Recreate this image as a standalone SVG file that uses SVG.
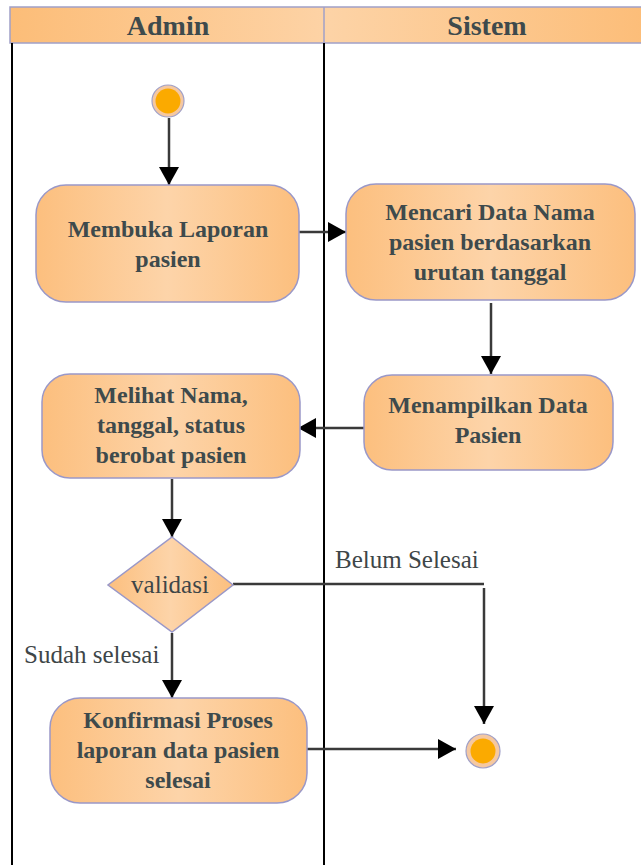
<svg xmlns="http://www.w3.org/2000/svg" width="641" height="865" viewBox="0 0 641 865">
<defs>
<linearGradient id="gHead" x1="0" y1="0" x2="1" y2="0">
<stop offset="0" stop-color="#fcbd78"/><stop offset="0.5" stop-color="#fdd3a6"/><stop offset="1" stop-color="#fcbd78"/>
</linearGradient>
<linearGradient id="gBox" x1="0" y1="0" x2="1" y2="0">
<stop offset="0" stop-color="#fcbf7e"/><stop offset="0.5" stop-color="#fdd4a9"/><stop offset="1" stop-color="#fcbf7e"/>
</linearGradient>
<marker id="arr" markerUnits="userSpaceOnUse" markerWidth="22" markerHeight="22" viewBox="0 0 22 22" refX="20" refY="11" orient="auto">
<path d="M2,1 L20,11 L2,21 Z" fill="#000"/>
</marker>
</defs>
<style>
.lane{stroke:#000;stroke-width:2;fill:none}
.head{fill:url(#gHead);stroke:#a0a0c8;stroke-width:1.5}
.box{fill:url(#gBox);stroke:#9a98c8;stroke-width:1.5}
.t{font-family:"Liberation Serif",serif;font-weight:bold;font-size:24px;fill:#3e4a4c;text-anchor:middle}
.h{font-family:"Liberation Serif",serif;font-weight:bold;font-size:28px;fill:#3e4a4c;text-anchor:middle}
.lbl{font-family:"Liberation Serif",serif;font-size:25px;fill:#3e4648}
.c{stroke:#3a3a3a;stroke-width:2.5;fill:none}
.ring{fill:#f5c8a0;stroke:#a0a0c8;stroke-width:1.2}
.dot{fill:#fbaa00}
</style>
<rect width="641" height="865" fill="#fff"/>
<g id="lanes">
<rect class="head" x="10" y="7" width="640" height="36"/>
<line x1="324" y1="7" x2="324" y2="43" stroke="#a0a0c8" stroke-width="1.5"/>
<text class="h" x="168" y="35">Admin</text>
<text class="h" x="487" y="35">Sistem</text>
<line class="lane" x1="12" y1="43" x2="12" y2="865"/>
<line class="lane" x1="324" y1="43" x2="324" y2="865"/>
</g>
<g id="connectors">
<line class="c" x1="169" y1="118" x2="169" y2="185" marker-end="url(#arr)"/>
<line class="c" x1="299" y1="232" x2="346" y2="232" marker-end="url(#arr)"/>
<line class="c" x1="491" y1="303" x2="491" y2="374" marker-end="url(#arr)"/>
<line class="c" x1="364" y1="428" x2="298" y2="428" marker-end="url(#arr)"/>
<line class="c" x1="172" y1="479" x2="172" y2="537" marker-end="url(#arr)"/>
<polyline class="c" points="233,584 484,584" />
<line class="c" x1="484" y1="588" x2="484" y2="724" marker-end="url(#arr)"/>
<line class="c" x1="172" y1="633" x2="172" y2="698" marker-end="url(#arr)"/>
<line class="c" x1="307" y1="749" x2="456" y2="749" marker-end="url(#arr)"/>
<text class="lbl" x="335" y="568">Belum Selesai</text>
<text class="lbl" x="24" y="663">Sudah selesai</text>
</g>
<g id="start">
<circle class="ring" cx="168" cy="101" r="16"/>
<circle class="dot" cx="168" cy="101" r="12.5"/>
</g>
<g id="n1">
<rect class="box" x="36" y="185" width="263" height="117" rx="30"/>
<text class="t" x="168" y="237">Membuka Laporan</text>
<text class="t" x="168" y="267">pasien</text>
</g>
<g id="n2">
<rect class="box" x="346" y="184" width="289" height="116" rx="30"/>
<text class="t" x="490" y="220">Mencari Data Nama</text>
<text class="t" x="490" y="250">pasien berdasarkan</text>
<text class="t" x="490" y="280">urutan tanggal</text>
</g>
<g id="n3">
<rect class="box" x="364" y="375" width="249" height="95" rx="28"/>
<text class="t" x="488" y="413">Menampilkan Data</text>
<text class="t" x="488" y="443">Pasien</text>
</g>
<g id="n4">
<rect class="box" x="42" y="374" width="258" height="104" rx="28"/>
<text class="t" x="171" y="403">Melihat Nama,</text>
<text class="t" x="171" y="433">tanggal, status</text>
<text class="t" x="171" y="463">berobat pasien</text>
</g>
<g id="decision">
<polygon class="box" points="172,537 233,585 172,632 108,585"/>
<text class="lbl" x="170" y="593" text-anchor="middle">validasi</text>
</g>
<g id="n5">
<rect class="box" x="50" y="698" width="257" height="105" rx="30"/>
<text class="t" x="178" y="728">Konfirmasi Proses</text>
<text class="t" x="178" y="758">laporan data pasien</text>
<text class="t" x="178" y="788">selesai</text>
</g>
<g id="end">
<circle class="ring" cx="483" cy="751" r="17"/>
<circle class="dot" cx="483" cy="751" r="12.5"/>
</g>
</svg>
